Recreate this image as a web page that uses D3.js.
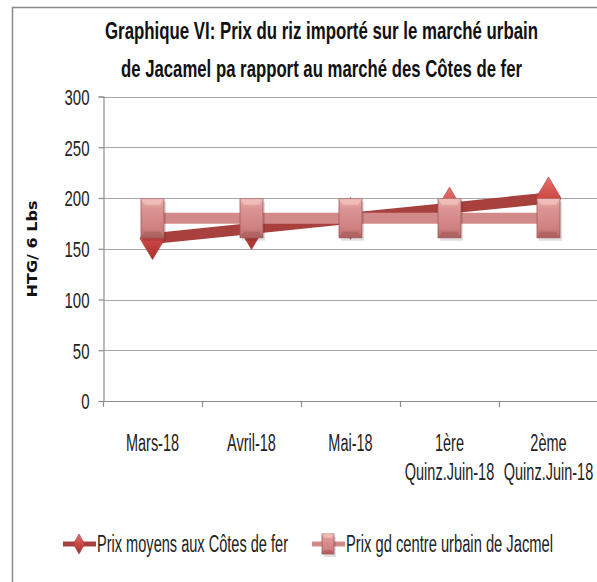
<!DOCTYPE html>
<html>
<head>
<meta charset="utf-8">
<script src="https://cdn.jsdelivr.net/npm/d3@7"></script>
<style>
  body { margin: 0; background: #fff; }
  svg { display: block; }
</style>
</head>
<body>
<div id="chart"></div>
<script>
// data
var categories = ["Mars-18", "Avril-18", "Mai-18", "1ère|Quinz.Juin-18", "2ème|Quinz.Juin-18"];
var prixCotesDeFer = [160, 170, 180, 190, 200];
var prixJacmel = [180, 180, 180, 180, 180];
var yTicks = [0, 50, 100, 150, 200, 250, 300];
var titleLines = ["Graphique VI: Prix du riz importé sur le marché urbain",
                  "de Jacamel pa rapport au marché des Côtes de fer"];
var seriesNames = ["Prix moyens aux Côtes de fer", "Prix gd centre urbain de Jacmel"];

var W = 597, H = 582;
var FONT = "'Liberation Sans', Arial, sans-serif";

var svg = d3.select("#chart").append("svg")
    .attr("width", W).attr("height", H);

var defs = svg.append("defs");
function grad(id, stops) {
    let g = defs.append("linearGradient").attr("id", id)
        .attr("x1", 0).attr("y1", 0).attr("x2", 0).attr("y2", 1);
    stops.forEach(s => g.append("stop").attr("offset", s[0]).attr("stop-color", s[1]));
}
grad("sqGrad", [[0, "#eab0ae"], [0.25, "#dc9594"], [0.75, "#d08080"], [1, "#b56867"]]);
grad("diaGrad", [[0, "#e8706b"], [0.5, "#cc4845"], [1, "#a8302e"]]);

// squeeze text horizontally like the narrow original font
function condense(sel, f) {
    sel.each(function() {
        let w = this.getComputedTextLength();
        d3.select(this).attr("textLength", w * f).attr("lengthAdjust", "spacingAndGlyphs");
    });
}

// frame
svg.append("path")
    .attr("d", "M12.5," + H + " V7.5 H" + W)
    .attr("fill", "none").attr("stroke", "#8c8c8c").attr("stroke-width", 1.5);

// title
svg.selectAll(".title").data(titleLines).enter().append("text")
    .attr("class", "title")
    .attr("x", 321.5).attr("y", (d, i) => 39 + i * 38)
    .attr("text-anchor", "middle")
    .attr("font-family", FONT).attr("font-size", 24).attr("font-weight", "bold")
    .attr("fill", "#111")
    .attr("textLength", (d, i) => i == 0 ? 433 : 401)
    .attr("lengthAdjust", "spacingAndGlyphs")
    .text(d => d);

var margin = {left: 103, right: 598, top: 96.5, bottom: 401};

var x = d3.scaleBand().domain(categories).range([margin.left, margin.right]).padding(0);
var y = d3.scaleLinear().domain([0, 300]).range([margin.bottom, margin.top]);
var cx = d => x(d) + x.bandwidth() / 2;

// gridlines
svg.append("g").selectAll("line").data(yTicks.filter(t => t > 0)).enter().append("line")
    .attr("x1", margin.left).attr("x2", W)
    .attr("y1", d => Math.round(y(d)) + 0.5).attr("y2", d => Math.round(y(d)) + 0.5)
    .attr("stroke", "#a6a6a6").attr("stroke-width", 1.2);

// y axis
var yAxis = svg.append("g")
    .attr("transform", "translate(" + (margin.left + 0.5) + ",0)")
    .call(d3.axisLeft(y).tickValues(yTicks).tickSize(5).tickPadding(9));
yAxis.select(".domain").attr("stroke", "#8c8c8c").attr("stroke-width", 1.2);
yAxis.selectAll(".tick line").attr("stroke", "#8c8c8c").attr("stroke-width", 1.2);
yAxis.selectAll(".tick text")
    .attr("font-family", FONT).attr("font-size", 22).attr("fill", "#222")
    .attr("dy", "0.36em")
    .call(condense, 0.68);

// x axis
var boundaries = categories.map(c => x(c)).concat([margin.right]);
svg.append("line")
    .attr("x1", margin.left).attr("x2", W)
    .attr("y1", margin.bottom + 0.5).attr("y2", margin.bottom + 0.5)
    .attr("stroke", "#8c8c8c").attr("stroke-width", 1.2);
svg.append("g").selectAll("line").data(boundaries).enter().append("line")
    .attr("x1", d => Math.round(d) + 0.5).attr("x2", d => Math.round(d) + 0.5)
    .attr("y1", margin.bottom).attr("y2", margin.bottom + 6)
    .attr("stroke", "#8c8c8c").attr("stroke-width", 1.2);

var xl = svg.append("g").selectAll("text").data(categories).enter().append("text")
    .attr("x", d => cx(d))
    .attr("y", 451)
    .attr("text-anchor", "middle")
    .attr("font-family", FONT).attr("font-size", 23).attr("fill", "#222");
xl.each(function(d) {
    let parts = d.split("|");
    let t = d3.select(this);
    parts.forEach((p, i) => {
        t.append("tspan").attr("x", cx(d)).attr("dy", i == 0 ? 0 : 29).text(p);
    });
});
xl.selectAll("tspan").call(condense, 0.63);

// y axis title
svg.append("text")
    .attr("transform", "translate(37,249) rotate(-90)")
    .attr("text-anchor", "middle")
    .attr("font-family", "'DejaVu Sans', Verdana, sans-serif")
    .attr("font-size", 14).attr("font-weight", "bold").attr("fill", "#111")
    .attr("textLength", 97).attr("lengthAdjust", "spacingAndGlyphs")
    .text("HTG/ 6 Lbs");

// markers
function diamond(g, px, py, w, h) {
    g.append("path")
        .attr("d", "M" + px + "," + (py - h / 2) + " L" + (px + w / 2) + "," + py +
              " L" + px + "," + (py + h / 2) + " L" + (px - w / 2) + "," + py + "Z")
        .attr("fill", "url(#diaGrad)").attr("stroke", "#a33a38").attr("stroke-width", 0.6);
}
function square(g, px, py, w, h, bev) {
    g.append("rect")
        .attr("x", px - w / 2 + 2).attr("y", py - h / 2 + 3).attr("width", w).attr("height", h)
        .attr("fill", "#000").attr("opacity", 0.12);
    g.append("rect")
        .attr("x", px - w / 2).attr("y", py - h / 2).attr("width", w).attr("height", h)
        .attr("fill", "url(#sqGrad)").attr("stroke", "#9e5a59").attr("stroke-width", 0.8);
    // bevel hints
    let b = bev || 4;
    g.append("path")
        .attr("d", "M" + (px - w / 2) + "," + (py - h / 2) + " L" + (px - w / 2 + b) + "," + (py - h / 2 + 1.5 * b) +
              " H" + (px + w / 2 - b) + " L" + (px + w / 2) + "," + (py - h / 2) + "Z")
        .attr("fill", "#f3c4c2").attr("opacity", 0.7);
    g.append("path")
        .attr("d", "M" + (px - w / 2) + "," + (py + h / 2) + " L" + (px - w / 2 + b) + "," + (py + h / 2 - 1.5 * b) +
              " H" + (px + w / 2 - b) + " L" + (px + w / 2) + "," + (py + h / 2) + "Z")
        .attr("fill", "#a95c5b").attr("opacity", 0.6);
}

var line = d3.line().x((d, i) => cx(categories[i])).y(d => y(d));

// series 1
var s1 = svg.append("g");
s1.append("path").datum(prixCotesDeFer).attr("d", line)
    .attr("fill", "none").attr("stroke", "#a8403e").attr("stroke-width", 11);
prixCotesDeFer.forEach((v, i) => diamond(s1, cx(categories[i]), y(v), 25, 42));

// series 2
var s2 = svg.append("g");
s2.append("path").datum(prixJacmel).attr("d", line)
    .attr("fill", "none").attr("stroke", "#d38b8a").attr("stroke-width", 11);
prixJacmel.forEach((v, i) => square(s2, cx(categories[i]), y(v), 23, 39));

// legend
var leg = svg.append("g");
var legItems = [{x: 63, tx: 97, tw: 191}, {x: 312, tx: 346, tw: 207}];
legItems.forEach((it, i) => {
    leg.append("line")
        .attr("x1", it.x).attr("x2", it.x + 33).attr("y1", 544).attr("y2", 544)
        .attr("stroke", i == 0 ? "#a8403e" : "#d38b8a").attr("stroke-width", 5);
    if (i == 0) diamond(leg, it.x + 16, 544, 11, 20);
    else square(leg, it.x + 16, 544, 12, 20, 2.5);
    leg.append("text")
        .attr("x", it.tx).attr("y", 552)
        .attr("font-family", FONT).attr("font-size", 23).attr("fill", "#222")
        .attr("textLength", it.tw).attr("lengthAdjust", "spacingAndGlyphs")
        .text(seriesNames[i]);
});
</script>
</body>
</html>
